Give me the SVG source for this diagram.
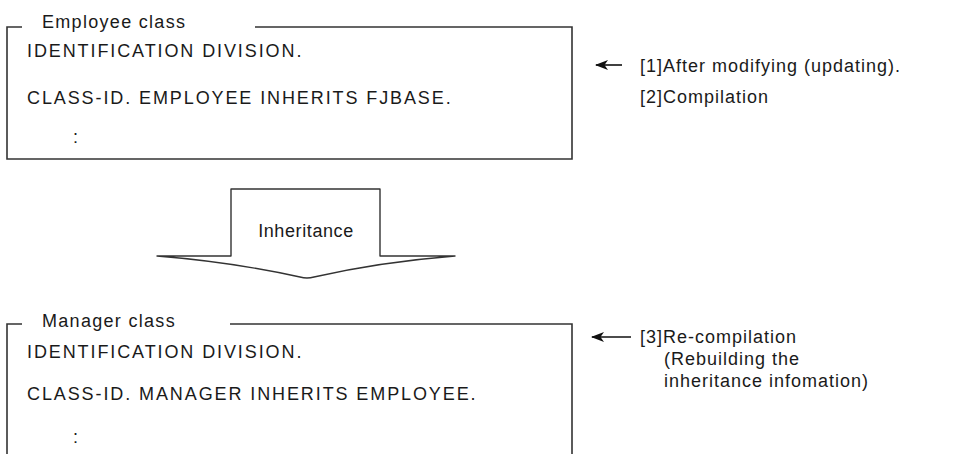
<svg xmlns="http://www.w3.org/2000/svg" width="972" height="454" viewBox="0 0 972 454">
<defs>
<style>
text{font-family:"Liberation Sans",Arial,sans-serif;font-size:18px;fill:#1a1a1a}
.code{letter-spacing:1.9px}
.lbl{letter-spacing:1.3px}
.note{letter-spacing:1px}
.inh{letter-spacing:0.6px}
.box{fill:none;stroke:#333;stroke-width:1.6}
.conn{fill:none;stroke:#111;stroke-width:1.6}
.big{fill:#fff;stroke:#333;stroke-width:1.4;stroke-linejoin:round}
</style>
<marker id="ah" viewBox="0 0 13 11" refX="12" refY="5.5" markerWidth="13" markerHeight="11" markerUnits="userSpaceOnUse" orient="auto">
<path d="M13,5.5 L0,0.5 L3.5,5.5 L0,10.5 Z" fill="#111"/>
</marker>
</defs>
<rect width="972" height="454" fill="#fff"/>
<g id="employee">
<path class="box" d="M22,27 H7 V159 H572 V27 H255"/>
<text class="lbl" x="42" y="28">Employee class</text>
<text class="code" x="27" y="57">IDENTIFICATION DIVISION.</text>
<text class="code" x="27" y="104">CLASS-ID. EMPLOYEE INHERITS FJBASE.</text>
<text class="code" x="73" y="143">:</text>
</g>
<g id="manager">
<path class="box" d="M22,324 H7 V460 M572,460 V324 H230"/>
<text class="lbl" x="42" y="327">Manager class</text>
<text class="code" x="27" y="358">IDENTIFICATION DIVISION.</text>
<text class="code" x="27" y="400">CLASS-ID. MANAGER INHERITS EMPLOYEE.</text>
<text class="code" x="73" y="443">:</text>
</g>
<g id="inheritance">
<path class="big" d="M231,256 V189 H380 V256 H455 Q380,262 314,277 Q307,279 300,277 Q232,262 157,256 Z"/>
<text class="inh" x="306" y="237" text-anchor="middle">Inheritance</text>
</g>
<g id="note1">
<text class="note" x="640" y="72">[1]After modifying (updating).</text>
<text class="note" x="640" y="103">[2]Compilation</text>
</g>
<g id="note2">
<text class="note" x="640" y="343">[3]Re-compilation</text>
<text class="note" x="664" y="365">(Rebuilding the</text>
<text class="note" x="664" y="387">inheritance infomation)</text>
</g>
<g id="connectors">
<path class="conn" d="M622,65 H596" marker-end="url(#ah)"/>
<path class="conn" d="M631,337 H592" marker-end="url(#ah)"/>
</g>
</svg>
